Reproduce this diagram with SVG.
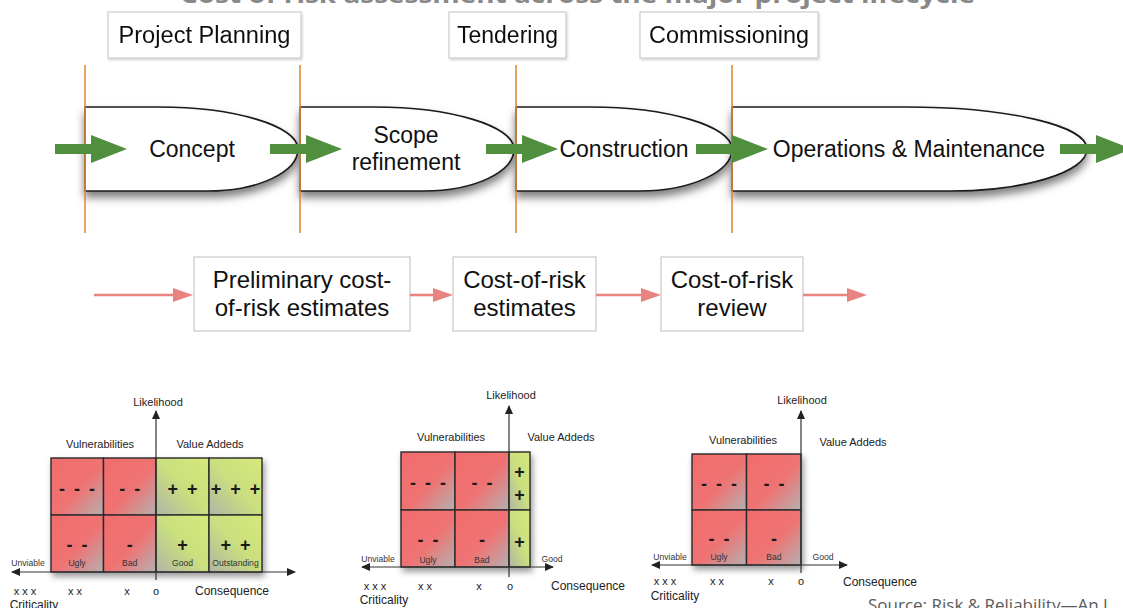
<svg xmlns="http://www.w3.org/2000/svg" width="1123" height="608" viewBox="0 0 1123 608">
  <style>
    text { font-family: "Liberation Sans", Arial, Helvetica, sans-serif; fill: #111; }
    .title { font-family: "Open Sans", "Liberation Sans", sans-serif; font-weight: bold; font-size: 24px; fill: #888; }
    .phase { font-size: 23px; text-anchor: middle; }
    .tag { fill: #fff; stroke: #c4c4c4; stroke-width: 1; }
    .step { fill: #fff; stroke: #bdbdbd; stroke-width: 1; }
    .stage { fill: #fff; stroke: #1a1a1a; stroke-width: 1.6; }
    .mark { stroke: #e08a3c; stroke-width: 1.6; }
    .flow { fill: #4f8f3e; }
    .risk { stroke: #e8837f; stroke-width: 2.6; fill: none; }
    .cell { stroke: #2b2b2b; stroke-width: 1.4; }
    .red { fill: url(#gRed); }
    .green { fill: url(#gGreen); }
    .axis { stroke: #333; stroke-width: 1.2; fill: none; }
    .lab { font-size: 11px; text-anchor: middle; fill: #222; }
    .conseq { font-size: 12px; text-anchor: middle; fill: #222; }
    .small { font-size: 8.6px; text-anchor: middle; fill: #333; }
    .sym { font-size: 18px; font-weight: bold; text-anchor: middle; fill: #1a1a1a; word-spacing: 4px; }
    .src { font-family: "Open Sans", "Liberation Sans", sans-serif; font-size: 17px; fill: #5a5a5a; }
  </style>
  <defs>
    <filter id="shade" x="-10%" y="-20%" width="120%" height="160%">
      <feDropShadow dx="0" dy="6" stdDeviation="4" flood-color="#000" flood-opacity="0.5"/>
    </filter>
    <filter id="soft" x="-10%" y="-10%" width="125%" height="130%">
      <feDropShadow dx="2" dy="4" stdDeviation="3" flood-color="#000" flood-opacity="0.4"/>
    </filter>
    <filter id="faint" x="-5%" y="-10%" width="115%" height="130%">
      <feDropShadow dx="1" dy="1.5" stdDeviation="1.2" flood-color="#000" flood-opacity="0.18"/>
    </filter>
    <linearGradient id="gRed" x1="0" y1="0" x2="1" y2="1">
      <stop offset="0" stop-color="#f26c6c"/>
      <stop offset="0.55" stop-color="#ef7373"/>
      <stop offset="1" stop-color="#b5b0b0"/>
    </linearGradient>
    <linearGradient id="gGreen" x1="1" y1="0" x2="0" y2="1">
      <stop offset="0" stop-color="#d5e97a"/>
      <stop offset="0.5" stop-color="#cadf7e"/>
      <stop offset="1" stop-color="#b0b5a6"/>
    </linearGradient>
    <path id="bigArrow" d="M0,-5 H36 V-14 L72,0 L36,14 V5 H0 Z"/>
    <marker id="pinkHead" markerUnits="userSpaceOnUse" markerWidth="20" markerHeight="14" refX="3" refY="7" orient="auto">
      <path d="M0,0 L20,7 L0,14 Z" fill="#e8837f"/>
    </marker>
    <marker id="axHead" markerUnits="userSpaceOnUse" markerWidth="9" markerHeight="8" refX="8" refY="4" orient="auto-start-reverse">
      <path d="M0,0 L9,4 L0,8 Z" fill="#222"/>
    </marker>
  </defs>

  <rect width="1123" height="608" fill="#fff"/>

  <!-- heading, cut by the top edge -->
  <text class="title" x="180" y="2.5" textLength="795" lengthAdjust="spacingAndGlyphs">Cost of risk assessment across the major project lifecycle</text>

  <!-- milestone tags -->
  <g id="tag-planning" filter="url(#faint)">
    <rect class="tag" x="108" y="12" width="193" height="46"/>
    <text class="phase" x="204.5" y="43" textLength="172" lengthAdjust="spacingAndGlyphs">Project Planning</text>
  </g>
  <g id="tag-tendering" filter="url(#faint)">
    <rect class="tag" x="449" y="12" width="117" height="46"/>
    <text class="phase" x="507.5" y="43">Tendering</text>
  </g>
  <g id="tag-commissioning" filter="url(#faint)">
    <rect class="tag" x="640" y="12" width="178" height="46"/>
    <text class="phase" x="729" y="43" textLength="160" lengthAdjust="spacingAndGlyphs">Commissioning</text>
  </g>

  <!-- lifecycle stages -->
  <g id="stage-concept">
    <path class="stage" filter="url(#shade)" d="M85,107 H158 C235,107 298,126 298,149 C298,172 258,191 208,191 H85 Z"/>
    <text class="phase" x="192" y="157">Concept</text>
  </g>
  <g id="stage-scope">
    <path class="stage" filter="url(#shade)" d="M300,107 H374 C451,107 514,126 514,149 C514,172 474,191 424,191 H300 Z"/>
    <text class="phase" x="406" y="143">Scope</text>
    <text class="phase" x="406" y="170">refinement</text>
  </g>
  <g id="stage-construction">
    <path class="stage" filter="url(#shade)" d="M516,107 H590 C667,107 732,126 732,149 C732,172 690,191 640,191 H516 Z"/>
    <text class="phase" x="624" y="157">Construction</text>
  </g>
  <g id="stage-operations">
    <path class="stage" filter="url(#shade)" d="M732,107 H905 C1010,107 1087,126 1087,149 C1087,172 1025,191 950,191 H732 Z"/>
    <text class="phase" x="909" y="157">Operations &amp; Maintenance</text>
  </g>

  <!-- cost-of-risk steps -->
  <g id="step-preliminary">
    <rect class="step" x="194" y="257" width="216" height="74"/>
    <text class="phase" style="font-size:24px" x="302" y="288">Preliminary cost-</text>
    <text class="phase" style="font-size:24px" x="302" y="316">of-risk estimates</text>
  </g>
  <g id="step-estimates">
    <rect class="step" x="453" y="257" width="143" height="74"/>
    <text class="phase" style="font-size:24px" x="524.5" y="288">Cost-of-risk</text>
    <text class="phase" style="font-size:24px" x="524.5" y="316">estimates</text>
  </g>
  <g id="step-review">
    <rect class="step" x="661" y="257" width="142" height="74"/>
    <text class="phase" style="font-size:24px" x="732" y="288">Cost-of-risk</text>
    <text class="phase" style="font-size:24px" x="732" y="316">review</text>
  </g>

  <!-- connectors -->
  <g id="connectors">
    <line class="mark" x1="85" y1="65" x2="85" y2="233"/>
    <line class="mark" x1="300" y1="65" x2="300" y2="233"/>
    <line class="mark" x1="516" y1="65" x2="516" y2="233"/>
    <line class="mark" x1="732" y1="65" x2="732" y2="233"/>

    <use href="#bigArrow" class="flow" transform="translate(55,149)"/>
    <use href="#bigArrow" class="flow" transform="translate(270,149)"/>
    <use href="#bigArrow" class="flow" transform="translate(486,149)"/>
    <use href="#bigArrow" class="flow" transform="translate(696,149)"/>
    <use href="#bigArrow" class="flow" transform="translate(1060,149)"/>

    <line class="risk" x1="94" y1="295" x2="176" y2="295" marker-end="url(#pinkHead)"/>
    <line class="risk" x1="410" y1="295" x2="436" y2="295" marker-end="url(#pinkHead)"/>
    <line class="risk" x1="596" y1="295" x2="644" y2="295" marker-end="url(#pinkHead)"/>
    <line class="risk" x1="803" y1="295" x2="850" y2="295" marker-end="url(#pinkHead)"/>
  </g>

  <!-- risk matrix: early stage -->
  <g id="matrix-early">
    <g filter="url(#soft)">
      <rect class="cell red" x="51" y="458" width="52.5" height="57"/>
      <rect class="cell red" x="103.5" y="458" width="52.5" height="57"/>
      <rect class="cell green" x="156" y="458" width="53" height="57"/>
      <rect class="cell green" x="209" y="458" width="53" height="57"/>
      <rect class="cell red" x="51" y="515" width="52.5" height="57"/>
      <rect class="cell red" x="103.5" y="515" width="52.5" height="57"/>
      <rect class="cell green" x="156" y="515" width="53" height="57"/>
      <rect class="cell green" x="209" y="515" width="53" height="57"/>
    </g>
    <line class="axis" x1="156" y1="580" x2="156" y2="411" marker-end="url(#axHead)"/>
    <line class="axis" x1="12" y1="572" x2="295" y2="572" marker-start="url(#axHead)" marker-end="url(#axHead)"/>
    <text class="lab" x="158" y="406">Likelihood</text>
    <text class="lab" x="100" y="448">Vulnerabilities</text>
    <text class="lab" x="210" y="448">Value Addeds</text>
    <text class="sym" x="77" y="495">- - -</text>
    <text class="sym" x="129.7" y="495">- -</text>
    <text class="sym" x="182.5" y="495">+ +</text>
    <text class="sym" x="235.5" y="495">+ + +</text>
    <text class="sym" x="77" y="551">- -</text>
    <text class="sym" x="129.7" y="551">-</text>
    <text class="sym" x="182.5" y="551">+</text>
    <text class="sym" x="235.5" y="551">+ +</text>
    <text class="small" x="28" y="566">Unviable</text>
    <text class="small" x="77" y="566">Ugly</text>
    <text class="small" x="129.7" y="566">Bad</text>
    <text class="small" x="182.5" y="566">Good</text>
    <text class="small" x="235.5" y="566">Outstanding</text>
    <text class="lab" x="25" y="595">x x x</text>
    <text class="lab" x="75" y="595">x x</text>
    <text class="lab" x="127" y="595">x</text>
    <text class="lab" x="156" y="595">o</text>
    <text class="conseq" x="232" y="595">Consequence</text>
    <text class="conseq" x="34" y="609">Criticality</text>
  </g>

  <!-- risk matrix: tendering -->
  <g id="matrix-tender">
    <g filter="url(#soft)">
      <rect class="cell red" x="401" y="452" width="54" height="58"/>
      <rect class="cell red" x="455" y="452" width="54" height="58"/>
      <rect class="cell green" x="509" y="452" width="21" height="58"/>
      <rect class="cell red" x="401" y="510" width="54" height="57"/>
      <rect class="cell red" x="455" y="510" width="54" height="57"/>
      <rect class="cell green" x="509" y="510" width="21" height="57"/>
    </g>
    <line class="axis" x1="509" y1="577" x2="509" y2="406" marker-end="url(#axHead)"/>
    <line class="axis" x1="362" y1="567" x2="553" y2="567" marker-start="url(#axHead)" marker-end="url(#axHead)"/>
    <text class="lab" x="511" y="399">Likelihood</text>
    <text class="lab" x="451" y="441">Vulnerabilities</text>
    <text class="lab" x="561" y="441">Value Addeds</text>
    <text class="sym" x="428" y="489">- - -</text>
    <text class="sym" x="482" y="489">- -</text>
    <text class="sym" x="519.5" y="478">+</text>
    <text class="sym" x="519.5" y="501">+</text>
    <text class="sym" x="428" y="546">- -</text>
    <text class="sym" x="482" y="546">-</text>
    <text class="sym" x="519.5" y="548">+</text>
    <text class="small" x="378" y="562">Unviable</text>
    <text class="small" x="428" y="563">Ugly</text>
    <text class="small" x="482" y="563">Bad</text>
    <text class="small" x="552" y="562">Good</text>
    <text class="lab" x="375" y="590">x x x</text>
    <text class="lab" x="425" y="590">x x</text>
    <text class="lab" x="479" y="590">x</text>
    <text class="lab" x="510" y="590">o</text>
    <text class="conseq" x="588" y="590">Consequence</text>
    <text class="conseq" x="384" y="604">Criticality</text>
  </g>

  <!-- risk matrix: commissioning -->
  <g id="matrix-commission">
    <g filter="url(#soft)">
      <rect class="cell red" x="692" y="454" width="54.5" height="56"/>
      <rect class="cell red" x="746.5" y="454" width="54.5" height="56"/>
      <rect class="cell red" x="692" y="510" width="54.5" height="55"/>
      <rect class="cell red" x="746.5" y="510" width="54.5" height="55"/>
    </g>
    <line class="axis" x1="801" y1="573" x2="801" y2="411" marker-end="url(#axHead)"/>
    <line class="axis" x1="652" y1="565" x2="847" y2="565" marker-start="url(#axHead)" marker-end="url(#axHead)"/>
    <text class="lab" x="802" y="404">Likelihood</text>
    <text class="lab" x="743" y="444">Vulnerabilities</text>
    <text class="lab" x="853" y="446">Value Addeds</text>
    <text class="sym" x="719" y="490">- - -</text>
    <text class="sym" x="774" y="490">- -</text>
    <text class="sym" x="719" y="545">- -</text>
    <text class="sym" x="774" y="545">-</text>
    <text class="small" x="670" y="560">Unviable</text>
    <text class="small" x="719" y="560">Ugly</text>
    <text class="small" x="774" y="560">Bad</text>
    <text class="small" x="823" y="560">Good</text>
    <text class="lab" x="665" y="585">x x x</text>
    <text class="lab" x="717" y="585">x x</text>
    <text class="lab" x="771" y="585">x</text>
    <text class="lab" x="801" y="585">o</text>
    <text class="conseq" x="880" y="586">Consequence</text>
    <text class="conseq" x="675" y="600">Criticality</text>
  </g>

  <text class="src" x="868" y="611">Source: Risk &amp; Reliability—An I</text>
</svg>
